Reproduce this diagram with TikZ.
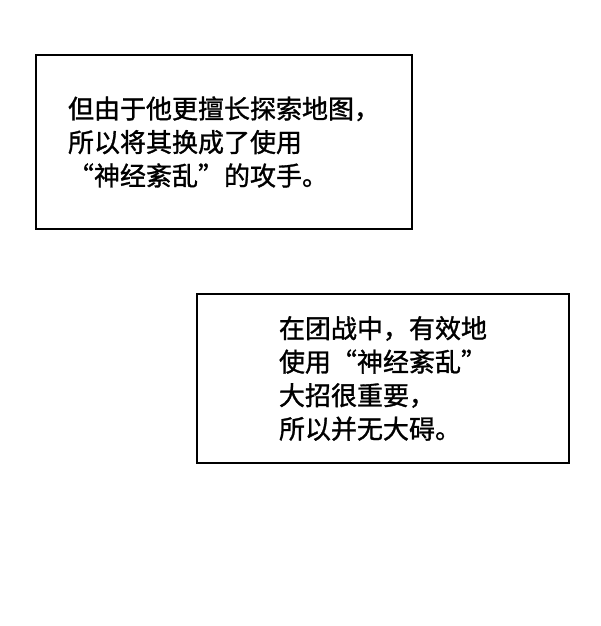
\documentclass[tikz,border=0pt]{standalone}
\usepackage{fontspec}
\newfontfamily\cjk[FakeBold=1.2]{Noto Sans CJK SC}

\begin{document}
\begin{tikzpicture}[x=1pt,y=1pt,line width=2pt,text box/.style={draw,rectangle,align=left,inner sep=0pt,font={\cjk\fontsize{26}{33.5}\selectfont}}]
                \useasboundingbox[fill=white] (0,0) rectangle (600,626);
                \node[text box,minimum width=376pt,minimum height=174pt] (top box) at (224,484) {但由于他更擅长探索地图，\\所以将其换成了使用\\“神经紊乱”的攻手。};
                \node[text box,minimum width=372pt,minimum height=169pt] (bottom box) at (383,247.5) {在团战中，有效地\\使用“神经紊乱”\\大招很重要，\\所以并无大碍。};
            \end{tikzpicture}
\end{document}
